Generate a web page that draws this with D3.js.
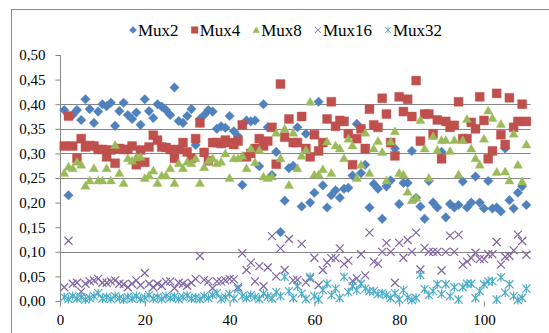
<!DOCTYPE html>
<html>
<head>
<meta charset="utf-8">
<script src="https://cdn.jsdelivr.net/npm/d3@7/dist/d3.min.js"></script>
<style>
  body { margin: 0; background: #fff; }
  text { font-family: "Liberation Serif", "DejaVu Serif", serif; }
</style>
</head>
<body>
<svg id="chart" width="549" height="333"></svg>
<script>
// values, one per run (x = 1..110)
const mux2 = [0.388,0.215,0.378,0.388,0.368,0.41,0.39,0.362,0.385,0.40,0.396,0.403,0.356,0.386,0.403,0.378,0.37,0.383,0.358,0.41,
  0.386,0.372,0.40,0.395,0.388,0.378,0.434,0.366,0.362,0.376,0.39,0.317,0.37,0.378,0.388,0.385,0.35,0.355,0.352,0.376,
  0.345,0.335,0.236,0.367,0.365,0.367,0.274,0.40,0.353,0.256,0.303,0.14,0.204,0.27,0.275,0.353,0.192,0.34,0.20,0.22,
  0.405,0.235,0.19,0.215,0.225,0.21,0.228,0.23,0.255,0.36,0.26,0.277,0.19,0.238,0.228,0.167,0.233,0.245,0.31,0.197,
  0.24,0.24,0.305,0.21,0.192,0.167,0.244,0.2,0.19,0.303,0.17,0.197,0.19,0.195,0.243,0.19,0.2,0.253,0.2,0.188,
  0.244,0.188,0.19,0.182,0.31,0.205,0.188,0.22,0.233,0.195];
const mux4 = [0.315,0.376,0.315,0.29,0.33,0.313,0.316,0.315,0.308,0.308,0.293,0.307,0.28,0.31,0.308,0.308,0.315,0.277,0.307,0.282,
  0.313,0.337,0.327,0.313,0.312,0.308,0.29,0.308,0.322,0.303,0.29,0.33,0.362,0.302,0.285,0.322,0.322,0.32,0.327,0.322,
  0.318,0.325,0.358,0.293,0.30,0.31,0.33,0.315,0.325,0.353,0.278,0.441,0.333,0.37,0.322,0.322,0.375,0.31,0.293,0.338,
  0.305,0.322,0.37,0.405,0.355,0.367,0.365,0.34,0.277,0.33,0.35,0.31,0.39,0.358,0.353,0.412,0.38,0.322,0.295,0.415,
  0.385,0.41,0.375,0.448,0.325,0.38,0.38,0.34,0.368,0.289,0.365,0.353,0.357,0.405,0.33,0.33,0.363,0.35,0.415,0.367,
  0.289,0.305,0.422,0.338,0.318,0.413,0.353,0.365,0.40,0.365];
const mux8 = [0.26,0.273,0.27,0.283,0.277,0.234,0.245,0.27,0.245,0.245,0.27,0.245,0.317,0.26,0.24,0.29,0.285,0.292,0.293,0.25,
  0.255,0.265,0.24,0.255,0.255,0.27,0.24,0.28,0.27,0.283,0.28,0.29,0.24,0.272,0.285,0.29,0.28,0.283,0.30,0.25,
  0.29,0.29,0.295,0.27,0.31,0.282,0.307,0.253,0.25,0.253,0.342,0.29,0.35,0.236,0.342,0.27,0.295,0.307,0.405,0.257,
  0.257,0.268,0.324,0.26,0.316,0.31,0.29,0.33,0.316,0.25,0.277,0.342,0.26,0.31,0.325,0.303,0.245,0.324,0.345,0.26,
  0.257,0.222,0.205,0.21,0.368,0.31,0.25,0.335,0.307,0.327,0.327,0.305,0.327,0.257,0.327,0.37,0.31,0.29,0.277,0.33,
  0.387,0.372,0.262,0.36,0.263,0.245,0.34,0.277,0.243,0.318];
const mux16 = [0.028,0.1225,0.035,0.037,0.019,0.035,0.04,0.042,0.045,0.037,0.037,0.04,0.042,0.035,0.034,0.028,0.035,0.042,0.032,0.057,
  0.035,0.028,0.035,0.031,0.039,0.04,0.026,0.037,0.035,0.031,0.037,0.045,0.0915,0.043,0.04,0.026,0.04,0.04,0.042,0.045,
  0.044,0.028,0.097,0.063,0.078,0.04,0.071,0.03,0.068,0.132,0.05,0.107,0.063,0.126,0.042,0.043,0.116,0.038,0.046,0.088,
  0.032,0.063,0.078,0.087,0.087,0.107,0.075,0.082,0.041,0.046,0.095,0.052,0.139,0.08,0.076,0.10,0.118,0.10,0.037,0.118,
  0.088,0.124,0.10,0.139,0.064,0.108,0.10,0.10,0.10,0.062,0.10,0.133,0.10,0.135,0.074,0.08,0.087,0.098,0.085,0.085,
  0.095,0.095,0.12,0.074,0.09,0.092,0.103,0.135,0.122,0.094];
const mux32 = [0.008,0.004,0.01,0.005,0.008,0.003,0.006,0.01,0.016,0.005,0.008,0.004,0.01,0.006,0.003,0.008,0.005,0.01,0.004,0.007,
  0.012,0.005,0.008,0.004,0.01,0.006,0.009,0.004,0.008,0.011,0.005,0.007,0.004,0.01,0.006,0.012,0.016,0.004,0.008,0.014,
  0.005,0.024,0.01,0.006,0.012,0.008,0.004,0.015,0.009,0.005,0.018,0.01,0.049,0.02,0.006,0.03,0.015,0.004,0.049,0.01,
  0.003,0.022,0.035,0.012,0.025,0.006,0.049,0.018,0.03,0.022,0.035,0.025,0.02,0.02,0.014,0.016,0.012,0.006,0.016,0.003,
  0.022,0.007,0.002,0.006,0.053,0.024,0.012,0.02,0.034,0.014,0.034,0.01,0.028,0.003,0.028,0.035,0.035,0.006,0.02,0.034,
  0.04,0.04,0.003,0.048,0.017,0.034,0.01,0.002,0.006,0.025];

const seriesNames = ["Mux2","Mux4","Mux8","Mux16","Mux32"];
const seriesValues = [mux2, mux4, mux8, mux16, mux32];
const xTicks = [0,20,40,60,80,100];
const yTicks = [0,0.05,0.10,0.15,0.20,0.25,0.30,0.35,0.40,0.45,0.50];
const gridVals = [0.10,0.25,0.30,0.35,0.40];

const colors = ["#4F81BD","#C0504D","#9BBB59","#8064A2","#4BACC6"];
const shapes = ["diamond","square","triangle","cross","star"];

const svg = d3.select("#chart");
const x = d3.scaleLinear().domain([0,111]).range([60,530.6]);
const y = d3.scaleLinear().domain([0,0.5]).range([301,55]);
const fmt = d => d3.format(".2f")(d).replace(".", ",");

// chart frame
svg.append("rect").attr("x",11.5).attr("y",9.5).attr("width",560).attr("height",340)
  .attr("fill","none").attr("stroke","#8c8c8c");

// grid
svg.append("g").selectAll("line").data(gridVals).join("line")
  .attr("x1",x(0)).attr("x2",x(111))
  .attr("y1",d=>Math.round(y(d))+0.5).attr("y2",d=>Math.round(y(d))+0.5)
  .attr("stroke","#878787");

// axes
const yAxis = svg.append("g").attr("transform","translate(60.5,0)")
  .call(d3.axisLeft(y).tickValues(yTicks).tickFormat(fmt).tickSize(5).tickPadding(10));
yAxis.select(".domain").attr("stroke","#878787").attr("d","M0,55V305");
yAxis.selectAll(".tick line").attr("stroke","#878787");
yAxis.selectAll("text").style("font-size","15px").attr("fill","#000");

const xAxis = svg.append("g").attr("transform","translate(0,301.5)")
  .call(d3.axisBottom(x).tickValues(xTicks).tickSize(5).tickPadding(8));
xAxis.select(".domain").remove();
xAxis.selectAll(".tick line").attr("stroke","#878787");
xAxis.selectAll("text").style("font-size","15px").attr("fill","#000");

function markerPath(shape){
  switch(shape){
    case "diamond": return "M0,-4.8L4.8,0L0,4.8L-4.8,0Z";
    case "square": return "M-4.5,-4.5H4.5V4.5H-4.5Z";
    case "triangle": return "M0,-4.5L4.6,3.5H-4.6Z";
    case "cross": return "M-4,-4L4,4M-4,4L4,-4";
    case "star": return "M-4,-4L4,4M-4,4L4,-4M0,-4.5V4.5";
  }
}
function styleMarker(sel, k){
  const filled = k < 3;
  sel.attr("d", markerPath(shapes[k]))
    .attr("fill", filled ? colors[k] : "none")
    .attr("stroke", colors[k])
    .attr("stroke-width", filled ? 0.6 : 1.2)
    .attr("stroke-opacity", filled ? 0.6 : 1);
}

// points
seriesValues.forEach((vals, k) => {
  svg.append("g").selectAll("path").data(vals).join("path")
    .attr("transform",(d,i)=>`translate(${x(i+1)},${y(d)})`)
    .call(styleMarker, k);
});

// legend
const legend = svg.append("g");
let lx = 0;
seriesNames.forEach((name, k) => {
  const g = legend.append("g").attr("transform",`translate(${lx},0)`);
  g.append("path").attr("transform","scale(0.75)").call(styleMarker, k);
  const t = g.append("text").attr("x",5).attr("dy","0.35em").style("font-size","17px").text(name);
  lx += 5 + t.node().getComputedTextLength() + 16;
});
legend.attr("transform","translate(133,30)");
</script>
</body>
</html>
